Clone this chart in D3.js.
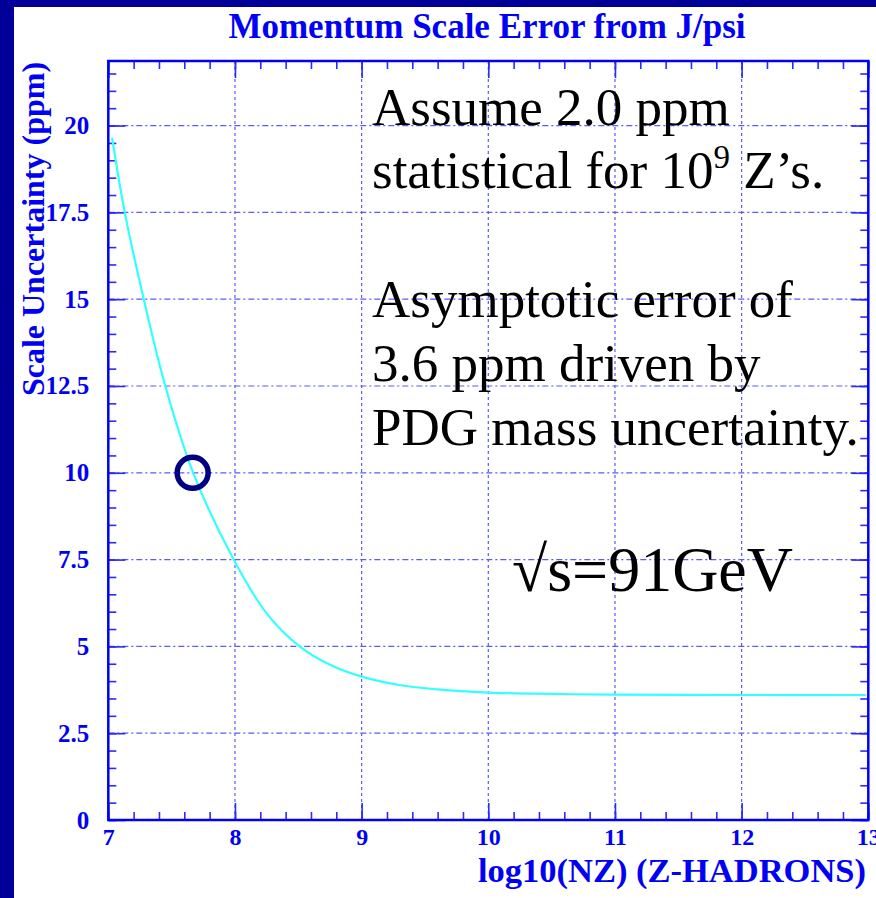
<!DOCTYPE html>
<html>
<head>
<meta charset="utf-8">
<script src="https://cdn.jsdelivr.net/npm/d3@7"></script>
<style>
  html, body { margin: 0; padding: 0; background: #ffffff; }
  svg { display: block; }
</style>
</head>
<body>
<svg id="chart" width="876" height="898"></svg>
<script>
// ---- data ----
const curveX = [7.03, 7.13, 7.28, 7.45, 7.67, 7.99, 8.25, 8.51, 8.75, 9.0, 9.31, 9.6, 10.0, 10.5, 11.0, 12.0, 12.98];
const curveY = [19.65, 17.5, 15.0, 12.5, 10.0, 7.5, 5.95, 5.0, 4.47, 4.13, 3.88, 3.76, 3.67, 3.63, 3.61, 3.60, 3.60];
const markerX = [7.666];
const markerY = [10.0];
const xTickValues = [7, 8, 9, 10, 11, 12, 13];
const yTickValues = [0, 2.5, 5, 7.5, 10, 12.5, 15, 17.5, 20];
const yTickLabels = ["0", "2.5", "5", "7.5", "10", "12.5", "15", "17.5", "20"];
const titleText = "Momentum Scale Error from J/psi";
const xLabelText = "log10(NZ) (Z-HADRONS)";
const yLabelText = "Scale Uncertainty (ppm)";
const noteLines1 = ["Assume 2.0 ppm", "statistical for 10", "9", " Z\u2019s."];
const noteLines2 = ["Asymptotic error of", "3.6 ppm driven by", "PDG mass uncertainty."];
const energyText = "\u221As=91GeV";

// ---- layout ----
const svg = d3.select("#chart");
const L = 108.3, R = 868.3, T = 61, B = 820;
const x = d3.scaleLinear().domain([7, 13]).range([L, R]);
const y = d3.scaleLinear().domain([0, 21.86]).range([B, T]);
const blue = "#0000f5";
const serif = "'Liberation Serif', 'Times New Roman', Times, serif";

// dark border (left and top)
svg.append("rect").attr("x", 0).attr("y", 0).attr("width", 876).attr("height", 7).attr("fill", "#000099");
svg.append("rect").attr("x", 0).attr("y", 0).attr("width", 14).attr("height", 898).attr("fill", "#000099");

// grid
const gGrid = svg.append("g");
gGrid.selectAll("line.hg").data(yTickValues.filter(v => v > 0))
  .join("line").attr("class", "hg")
  .attr("x1", L).attr("x2", R).attr("y1", d => y(d)).attr("y2", d => y(d))
  .attr("stroke", "#5a5aff").attr("stroke-width", 1.2).attr("stroke-dasharray", "6,3,2,3");
gGrid.selectAll("line.vg").data(xTickValues.filter(v => v > 7 && v < 13))
  .join("line").attr("class", "vg")
  .attr("x1", d => x(d)).attr("x2", d => x(d)).attr("y1", T).attr("y2", B)
  .attr("stroke", "#5a5aff").attr("stroke-width", 1.2).attr("stroke-dasharray", "3,3");

// minor/major ticks via axes
const yMinor = d3.range(0, 21.6, 0.5);
const xMinor = d3.range(7, 13.001, 0.2);
function tickAxis(axis, tx, ty) {
  const g = svg.append("g").attr("transform", `translate(${tx},${ty})`).call(axis);
  g.select(".domain").remove();
  g.selectAll("text").remove();
  g.selectAll("line").attr("stroke", "#2a2aff").attr("stroke-width", 1.6);
  return g;
}
tickAxis(d3.axisRight(y).tickValues(yMinor).tickSize(8), L, 0);
tickAxis(d3.axisRight(y).tickValues(yTickValues).tickSize(17), L, 0);
tickAxis(d3.axisLeft(y).tickValues(yMinor).tickSize(8), R, 0);
tickAxis(d3.axisLeft(y).tickValues(yTickValues).tickSize(17), R, 0);
tickAxis(d3.axisTop(x).tickValues(xMinor).tickSize(8), 0, B);
tickAxis(d3.axisTop(x).tickValues(xTickValues).tickSize(17), 0, B);
tickAxis(d3.axisBottom(x).tickValues(xMinor).tickSize(8), 0, T);
tickAxis(d3.axisBottom(x).tickValues(xTickValues).tickSize(17), 0, T);

// frame
svg.append("rect").attr("x", L).attr("y", T).attr("width", R - L).attr("height", B - T)
  .attr("fill", "none").attr("stroke", blue).attr("stroke-width", 2.5);

// tick labels
const yLab = svg.append("g").attr("transform", `translate(${L},0)`)
  .call(d3.axisLeft(y).tickValues(yTickValues).tickSize(0).tickPadding(19)
    .tickFormat((d, i) => yTickLabels[i]));
yLab.select(".domain").remove();
yLab.selectAll("text").attr("font-family", serif).attr("font-weight", "bold")
  .attr("font-size", 25).attr("fill", blue);

const xLab = svg.append("g").attr("transform", `translate(0,${B})`)
  .call(d3.axisBottom(x).tickValues(xTickValues).tickSize(0).tickPadding(8)
    .tickFormat(d3.format("d")));
xLab.select(".domain").remove();
xLab.selectAll("text").attr("font-family", serif).attr("font-weight", "bold")
  .attr("font-size", 24).attr("fill", blue);

// titles
svg.append("text").attr("x", 487).attr("y", 38).attr("text-anchor", "middle")
  .attr("font-family", serif).attr("font-weight", "bold").attr("font-size", 35)
  .attr("fill", blue).text(titleText);
svg.append("text").attr("x", 866).attr("y", 882).attr("text-anchor", "end")
  .attr("font-family", serif).attr("font-weight", "bold").attr("font-size", 34.5)
  .attr("fill", blue).text(xLabelText);
svg.append("text").attr("transform", "translate(44,229) rotate(-90)").attr("text-anchor", "middle")
  .attr("font-family", serif).attr("font-weight", "bold").attr("font-size", 32)
  .attr("fill", blue).text(yLabelText);

// curve
const pts = curveX.map((v, i) => [v, curveY[i]]);
svg.append("path").datum(pts)
  .attr("d", d3.line().x(d => x(d[0])).y(d => y(d[1])).curve(d3.curveCatmullRom.alpha(0.5)))
  .attr("fill", "none").attr("stroke", "#33ffff").attr("stroke-width", 2.2);

// marker circle
svg.selectAll("circle.mk").data(markerX.map((v, i) => [v, markerY[i]]))
  .join("circle").attr("class", "mk")
  .attr("cx", d => x(d[0])).attr("cy", d => y(d[1])).attr("r", 15.5)
  .attr("fill", "none").attr("stroke", "#000080").attr("stroke-width", 5.5);

// annotations
const ann = svg.append("g").attr("font-family", serif).attr("fill", "#000000");
ann.append("text").attr("x", 372).attr("y", 125).attr("font-size", 53).text(noteLines1[0]);
const t2 = ann.append("text").attr("x", 372).attr("y", 188).attr("font-size", 53);
t2.append("tspan").text(noteLines1[1]);
t2.append("tspan").attr("font-size", 33).attr("dy", -20).text(noteLines1[2]);
t2.append("tspan").attr("dy", 20).text(noteLines1[3]);
noteLines2.forEach((s, i) => {
  ann.append("text").attr("x", 372).attr("y", 317 + i * 64).attr("font-size", 53).text(s);
});
ann.append("text").attr("x", 512).attr("y", 591).attr("font-size", 64).text(energyText);
</script>
</body>
</html>
